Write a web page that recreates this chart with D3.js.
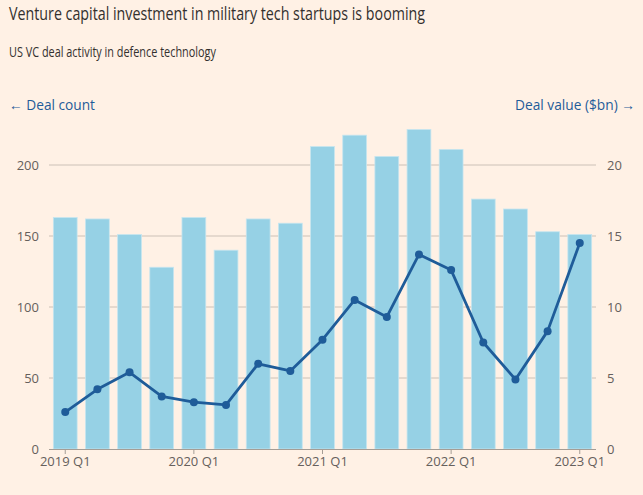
<!DOCTYPE html>
<html>
<head>
<meta charset="utf-8">
<script src="https://cdn.jsdelivr.net/npm/d3@7"></script>
<style>
  html, body { margin: 0; padding: 0; background: #fff1e5; }
  svg { display: block; font-family: "Open Sans", "Noto Sans", sans-serif; }
</style>
</head>
<body>
<svg id="chart" width="643" height="495"></svg>
<script>
const quarters = ["2019 Q1","2019 Q2","2019 Q3","2019 Q4","2020 Q1","2020 Q2","2020 Q3","2020 Q4",
                  "2021 Q1","2021 Q2","2021 Q3","2021 Q4","2022 Q1","2022 Q2","2022 Q3","2022 Q4","2023 Q1"];
const dealCount = [163,162,151,128,163,140,162,159,213,221,206,225,211,176,169,153,151];
const dealValue = [2.6,4.2,5.4,3.7,3.3,3.1,6.0,5.5,7.7,10.5,9.3,13.7,12.6,7.5,4.9,8.3,14.5];
const leftTicks = [0,50,100,150,200];
const rightTicks = [0,5,10,15,20];
const xTickLabels = ["2019 Q1","2020 Q1","2021 Q1","2022 Q1","2023 Q1"];

const svg = d3.select("#chart");
const W = 643, H = 495;
const plot = {left: 49, right: 596, top: 120, bottom: 449};

svg.append("rect").attr("width", W).attr("height", H).attr("fill", "#fff1e5");

const x = d3.scaleBand().domain(quarters).range([plot.left, plot.right])
  .paddingInner(0.26).paddingOuter(0.135);
const yL = d3.scaleLinear().domain([0, 200]).range([plot.bottom, plot.bottom - 284]);
const yR = d3.scaleLinear().domain([0, 20]).range([plot.bottom, plot.bottom - 284]);

const narrow = "'Liberation Sans Narrow', 'Open Sans', sans-serif";

// Title / subtitle
svg.append("text").attr("x", 9).attr("y", 19.5).attr("font-size", 19).attr("fill", "#33302e")
  .attr("font-family", narrow)
  .attr("textLength", 416).attr("lengthAdjust", "spacingAndGlyphs")
  .text("Venture capital investment in military tech startups is booming");
svg.append("text").attr("x", 9).attr("y", 56.5).attr("font-size", 14).attr("fill", "#33302e")
  .attr("font-family", narrow)
  .attr("textLength", 207).attr("lengthAdjust", "spacingAndGlyphs")
  .text("US VC deal activity in defence technology");

svg.append("text").attr("x", 9).attr("y", 110).attr("font-size", 14).attr("fill", "#1f5c99")
  .attr("font-family", narrow)
  .attr("textLength", 86).attr("lengthAdjust", "spacingAndGlyphs")
  .text("\u2190 Deal count");
svg.append("text").attr("x", 635).attr("y", 110).attr("font-size", 14).attr("fill", "#1f5c99")
  .attr("font-family", narrow)
  .attr("text-anchor", "end")
  .attr("textLength", 120).attr("lengthAdjust", "spacingAndGlyphs")
  .text("Deal value ($bn) \u2192");

// Gridlines
svg.append("g").selectAll("line").data(leftTicks.filter(d => d > 0)).join("line")
  .attr("x1", plot.left).attr("x2", plot.right)
  .attr("y1", d => yL(d)).attr("y2", d => yL(d))
  .attr("stroke", "#ccc1b7").attr("stroke-width", 1);

// Left axis labels
const leftAxis = d3.axisLeft(yL).tickValues(leftTicks).tickSize(0).tickPadding(10);
const gL = svg.append("g").attr("transform", `translate(${plot.left},0)`).call(leftAxis);
gL.select(".domain").remove();
gL.selectAll("text").attr("font-size", 13).attr("fill", "#66605c")
  .attr("font-family", "'Open Sans', sans-serif").attr("x", -10);

const rightAxis = d3.axisRight(yR).tickValues(rightTicks).tickSize(0).tickPadding(11);
const gR = svg.append("g").attr("transform", `translate(${plot.right},0)`).call(rightAxis);
gR.select(".domain").remove();
gR.selectAll("text").attr("font-size", 13).attr("fill", "#66605c")
  .attr("font-family", "'Open Sans', sans-serif");

// Bars
svg.append("g").selectAll("rect").data(quarters).join("rect")
  .attr("x", d => x(d)).attr("width", x.bandwidth())
  .attr("y", (d, i) => yL(dealCount[i]))
  .attr("height", (d, i) => yL(0) - yL(dealCount[i]))
  .attr("fill", "#96d1e5").attr("stroke", "#c6e5ef").attr("stroke-width", 0.8);

// Bottom axis
const xAxis = d3.axisBottom(x).tickValues(xTickLabels).tickSize(5).tickPadding(3);
const gX = svg.append("g").attr("transform", `translate(0,${plot.bottom})`).call(xAxis);
gX.select(".domain").attr("d", `M${plot.left},0.5H${plot.right}`).attr("stroke", "#a59d95");
gX.selectAll(".tick line").attr("stroke", "#a59d95");
gX.selectAll("text").attr("font-size", 13).attr("fill", "#66605c")
  .attr("font-family", "'Open Sans', sans-serif");

// Line
const cx = d => x(d) + x.bandwidth() / 2;
const line = d3.line().x(d => cx(d)).y((d, i) => yR(dealValue[i]));
svg.append("path").datum(quarters).attr("d", line)
  .attr("fill", "none").attr("stroke", "#1f5c99").attr("stroke-width", 2.8)
  .attr("stroke-linejoin", "round");
svg.append("g").selectAll("circle").data(quarters).join("circle")
  .attr("cx", d => cx(d)).attr("cy", (d, i) => yR(dealValue[i])).attr("r", 4)
  .attr("fill", "#1f5c99");
</script>
</body>
</html>
